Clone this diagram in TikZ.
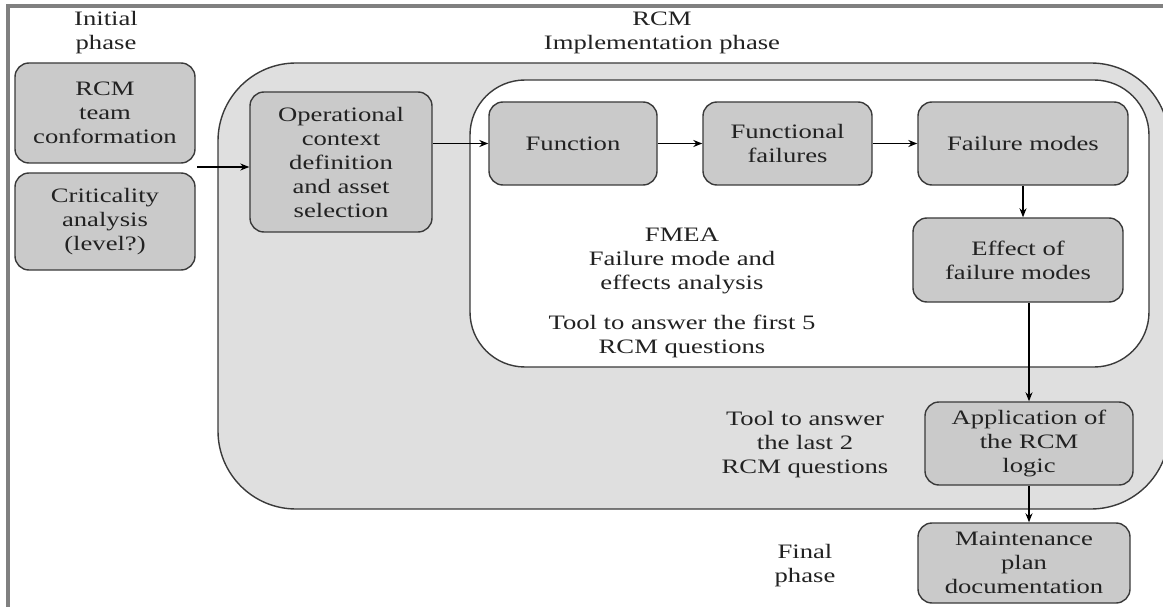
\documentclass[tikz,border=0pt]{standalone}
\usepackage{fontspec}
\setmainfont{Liberation Serif}[FakeStretch=1.3]
\usetikzlibrary{arrows.meta}
\definecolor{boxfill}{HTML}{CACACA}
\definecolor{outerfill}{HTML}{DFDFDF}
\definecolor{edgec}{HTML}{3A3A3A}
\definecolor{framec}{HTML}{808080}
\definecolor{txt}{HTML}{222222}
\begin{document}
\begin{tikzpicture}[x=1pt,y=-1pt,
  every node/.style={font=\fontsize{20.5}{24}\selectfont, text=txt, align=center},
  stepbox/.style={draw=edgec, line width=1.4pt, fill=boxfill, rounded corners=14pt, inner sep=0pt},
  region/.style={draw=edgec, line width=1.4pt},
  arr/.style={-{Stealth[length=9pt,width=7pt]}, line width=1.3pt, black}]
\useasboundingbox (0,0) rectangle (1163,607);
% frame
\draw[framec, line width=4pt] (8,607) -- (8,6) -- (1163,6);
% outer implementation region
\begin{scope}
\clip (0,0) rectangle (1163,607);
\draw[region, fill=outerfill, rounded corners=78pt] (218,63) rectangle (1169,509);
\end{scope}
% inner FMEA region
\draw[region, fill=white, rounded corners=55pt] (470,80) rectangle (1149,367);
% headings
\node (init) at (106,33) {Initial\\phase};
\node (rcmh) at (662,33) {RCM\\Implementation phase};
\node (final) at (805,566) {Final\\phase};
% boxes
\node[stepbox, minimum width=180pt, minimum height=100pt] (b1) at (105,113) {RCM\\team\\conformation};
\node[stepbox, minimum width=180pt, minimum height=97pt] (b2) at (105,221.5) {Criticality\\analysis\\(level?)};
\node[stepbox, minimum width=182pt, minimum height=140pt] (op) at (341,162) {Operational\\context\\definition\\and asset\\selection};
\node[stepbox, minimum width=168pt, minimum height=83pt] (fn) at (573,143.5) {Function};
\node[stepbox, minimum width=169pt, minimum height=83pt] (ff) at (787.5,143.5) {Functional\\failures};
\node[stepbox, minimum width=210pt, minimum height=83pt] (fm) at (1023,143.5) {Failure modes};
\node[stepbox, minimum width=210pt, minimum height=84pt] (ef) at (1018,260) {Effect of\\failure modes};
\node[stepbox, minimum width=208pt, minimum height=83pt] (ap) at (1029,443.5) {Application of\\the RCM\\logic};
\node[stepbox, minimum width=212pt, minimum height=80pt] (mp) at (1024,563) {Maintenance\\plan\\documentation};
% texts
\node (fmea) at (682,261) {FMEA\\Failure mode and\\effects analysis};
\node (first5) at (682,336) {Tool to answer the first 5\\RCM questions};
\node (last2) at (805,445) {Tool to answer\\the last 2\\RCM questions};
% arrows
\coordinate (s1) at (197,167);
\draw[arr] (s1) -- (s1 -| op.west);
\draw[arr] (op.east |- fn.west) -- (fn.west);
\draw[arr] (fn.east) -- (ff.west);
\draw[arr] (ff.east) -- (fm.west);
\draw[arr] (fm.south) -- (fm.south |- ef.north);
\draw[arr] (ef.south -| ap.north) -- (ap.north);
\draw[arr] (ap.south) -- (ap.south |- mp.north);
\end{tikzpicture}
\end{document}
